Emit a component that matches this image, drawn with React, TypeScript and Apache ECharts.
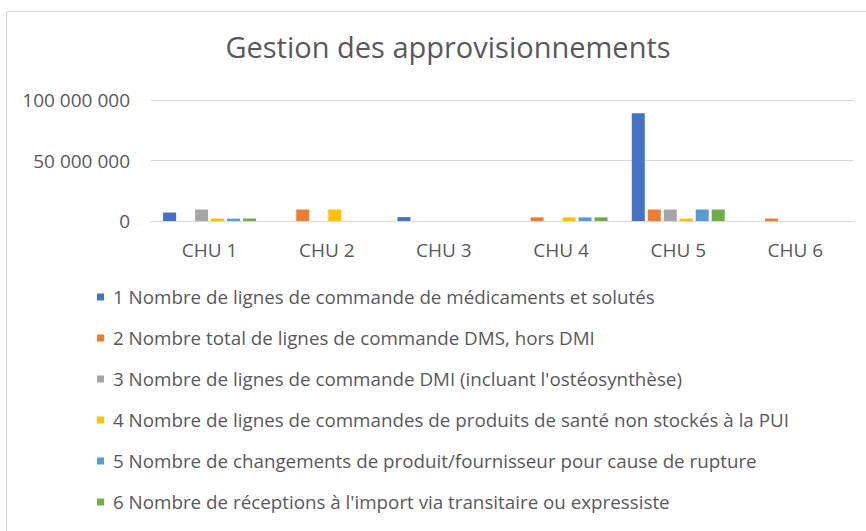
import React, { useEffect, useRef } from "react";
import * as echarts from "echarts";

const categories = ["CHU 1", "CHU 2", "CHU 3", "CHU 4", "CHU 5", "CHU 6"];
const seriesNames = [
  "1 Nombre de lignes de commande de médicaments et solutés",
  "2 Nombre total de lignes de commande DMS, hors DMI",
  "3 Nombre de lignes de commande DMI (incluant l'ostéosynthèse)",
  "4 Nombre de lignes de commandes de produits de santé non stockés à la PUI",
  "5 Nombre de changements de produit/fournisseur pour cause de rupture",
  "6 Nombre de réceptions à l'import via transitaire ou expressiste",
];
const s1 = [7000000, 0, 3200000, 0, 89000000, 0];
const s2 = [0, 9500000, 0, 3000000, 9500000, 2000000];
const s3 = [9500000, 0, 0, 0, 9500000, 0];
const s4 = [2000000, 9500000, 0, 3000000, 2000000, 0];
const s5 = [2000000, 0, 0, 3000000, 9500000, 0];
const s6 = [2000000, 0, 0, 3000000, 9500000, 0];
const seriesValues = [s1, s2, s3, s4, s5, s6];
const colors = ["#4472C4", "#ED7D31", "#A5A5A5", "#FFC000", "#5B9BD5", "#70AD47"];
const yTicks = [0, 50000000, 100000000];

const FONT = "Open Sans";
const TEXT = "#595959";

function fmt(v: number): string {
  return String(Math.round(v)).replace(/\B(?=(\d{3})+(?!\d))/g, " ");
}

export default function App() {
  const ref = useRef<HTMLDivElement>(null);
  useEffect(() => {
    if (!ref.current) return;
    const chart = echarts.init(ref.current, null, { renderer: "svg" });
    chart.setOption({
      animation: false,
      color: colors,
      textStyle: { fontFamily: FONT },
      title: {
        text: "Gestion des approvisionnements",
        left: 443,
        top: 27,
        textAlign: "center",
        textStyle: { fontFamily: FONT, fontSize: 29, fontWeight: "normal", color: TEXT },
      },
      graphic: [
        {
          type: "polyline",
          shape: { points: [[6.5, 531], [6.5, 11.5], [866, 11.5]] },
          style: { stroke: "#D9D9D9", fill: "none", lineWidth: 1 },
          silent: true,
        },
      ],
      grid: { left: 151, right: 12, top: 100, bottom: 310, containLabel: false },
      xAxis: {
        type: "category",
        data: categories,
        axisLine: { lineStyle: { color: "#D9D9D9" } },
        axisTick: { show: false },
        axisLabel: { fontFamily: FONT, fontSize: 19, color: TEXT, margin: 19 },
      },
      yAxis: {
        type: "value",
        min: yTicks[0],
        max: yTicks[yTicks.length - 1],
        interval: yTicks[1] - yTicks[0],
        axisLine: { show: false },
        axisTick: { show: false },
        splitLine: { lineStyle: { color: "#D9D9D9" } },
        axisLabel: { fontFamily: FONT, fontSize: 19, color: TEXT, margin: 21, formatter: (v: number) => fmt(v) },
      },
      legend: {
        orient: "vertical",
        left: 92,
        top: 281,
        icon: "rect",
        itemWidth: 7,
        itemHeight: 7,
        itemGap: 19,
        textStyle: { fontFamily: FONT, fontSize: 18.8, color: TEXT, lineHeight: 22, padding: [0, 0, 0, 4] },
        data: seriesNames,
      },
      series: seriesNames.map((name, i) => ({
        name,
        type: "bar",
        data: seriesValues[i],
        barWidth: 13,
        barGap: "23%",
      })),
    });
    return () => chart.dispose();
  }, []);
  return <div ref={ref} style={{ width: 866, height: 531, position: "absolute", left: 0, top: 0 }} />;
}
